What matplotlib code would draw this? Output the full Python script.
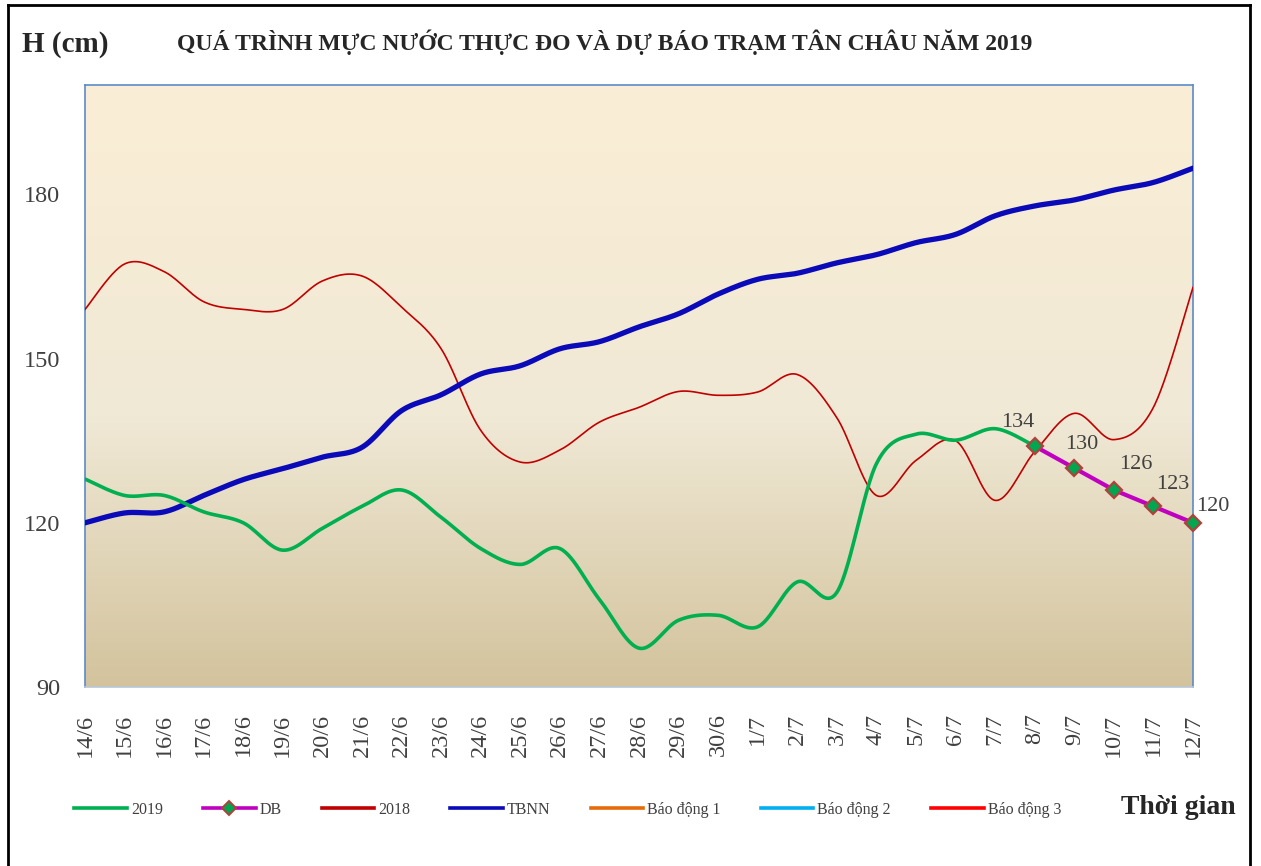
import numpy as np
import matplotlib
matplotlib.use("Agg")
import matplotlib.pyplot as plt
from matplotlib.lines import Line2D
from matplotlib.colors import LinearSegmentedColormap

# ---------------- data ----------------
dates = ["14/6", "15/6", "16/6", "17/6", "18/6", "19/6", "20/6", "21/6", "22/6", "23/6",
         "24/6", "25/6", "26/6", "27/6", "28/6", "29/6", "30/6", "1/7", "2/7", "3/7",
         "4/7", "5/7", "6/7", "7/7", "8/7", "9/7", "10/7", "11/7", "12/7"]

h2019 = [128, 125, 125, 122, 120, 115, 119, 123, 126, 121,
         115.3, 112.4, 115.3, 106, 97.1, 102.2, 103.1, 101, 109.2, 107.3,
         130.8, 136.2, 135.1, 137.2, 134]

db_idx = [24, 25, 26, 27, 28]
db_vals = [134, 130, 126, 123, 120]

h2018 = [159.0, 167.3, 165.9, 160.4, 159.0, 159.0, 164.2, 165.1, 159.4, 151.8,
         136.9, 131.1, 133.3, 138.4, 141.1, 144.0, 143.3, 143.9, 147.1, 139.2,
         125.0, 131.4, 135.0, 124.1, 133.0, 140.0, 135.2, 141.1, 163.0]

tbnn = [120.0, 121.8, 122.0, 125.0, 127.9, 129.9, 132.0, 133.8, 140.5, 143.4,
        147.2, 148.7, 151.8, 153.1, 155.8, 158.2, 161.8, 164.5, 165.6, 167.5,
        169.0, 171.2, 172.7, 176.1, 177.9, 179.0, 180.8, 182.2, 184.8]

yticks = [90, 120, 150, 180]

# ---------------- helpers ----------------
def smooth(xs, ys, n=30):
    """Excel-like smoothed line (Catmull-Rom / Bezier) through data points."""
    xs = np.asarray(xs, float)
    ys = np.asarray(ys, float)
    P = np.column_stack([xs, ys])
    m = len(P)
    out = [P[0]]
    for i in range(m - 1):
        p0 = P[i - 1] if i > 0 else P[i]
        p1 = P[i]
        p2 = P[i + 1]
        p3 = P[i + 2] if i + 2 < m else P[i + 1]
        c1 = p1 + (p2 - p0) / 6.0
        c2 = p2 - (p3 - p1) / 6.0
        t = np.linspace(0, 1, n)[1:, None]
        seg = ((1 - t) ** 3) * p1 + 3 * ((1 - t) ** 2) * t * c1 + 3 * (1 - t) * t ** 2 * c2 + t ** 3 * p2
        out.extend(seg)
    out = np.array(out)
    return out[:, 0], out[:, 1]

serif = ["Liberation Serif", "DejaVu Serif"]
plt.rcParams["font.family"] = serif

W, H = 1261, 866
fig = plt.figure(figsize=(W / 100, H / 100), dpi=100)
fig.patch.set_facecolor("white")

ax = fig.add_axes([85 / W, 1 - 687 / H, (1193 - 85) / W, (687 - 85) / H])

# gradient background
cmap = LinearSegmentedColormap.from_list(
    "bg", [(0.0, "#FBEED5"), (0.55, "#F0E9D6"), (1.0, "#D3C39D")])
grad = np.linspace(0, 1, 256)[:, None]
ax.imshow(grad, cmap=cmap, aspect="auto", extent=[0, 1, 0, 1],
          transform=ax.transAxes, zorder=0)

x_all = np.arange(len(dates))

# 2018
sx, sy = smooth(x_all, h2018)
ax.plot(sx, sy, color="#C00000", lw=1.2, zorder=3)
# TBNN
sx, sy = smooth(x_all, tbnn)
ax.plot(sx, sy, color="#0A0AB8", lw=3.8, zorder=4, solid_capstyle="round")
# 2019
sx, sy = smooth(np.arange(len(h2019)), h2019)
ax.plot(sx, sy, color="#00B050", lw=2.6, zorder=5, solid_capstyle="round")
# DB
ax.plot(db_idx, db_vals, color="#C000C0", lw=3.0, zorder=6,
        marker="D", markersize=8, markerfacecolor="#00A650",
        markeredgecolor="#B0423C", markeredgewidth=1.6, clip_on=False)

label_offsets = [(-17, 24), (7, 24), (22, 25), (19, 22), (20, 16)]
for xi, v, (dx, dy) in zip(db_idx, db_vals, label_offsets):
    ax.annotate(str(v), (xi, v), xytext=(dx * 0.72, dy * 0.72), textcoords="offset points",
                ha="center", va="center", fontsize=16, color="#404040", zorder=7,
                annotation_clip=False)

ax.set_xlim(0, len(dates) - 1)
ax.set_ylim(90, 200)
ax.set_yticks(yticks)
ax.set_xticks(x_all)
ax.set_xticklabels(dates, rotation=90)
ax.tick_params(axis="both", length=0, labelsize=17.5, labelcolor="#404040")
ax.tick_params(axis="x", pad=19)
ax.tick_params(axis="y", pad=18)
for s in ax.spines.values():
    s.set_color("#5B8BC9")
    s.set_linewidth(1.2)
ax.spines["bottom"].set_color("#B9C7DA")

# titles
fig.text(22 / W, 1 - 44 / H, "H (cm)", fontsize=21, fontweight="bold",
         color="#262626", ha="left", va="center")
fig.text(605 / W, 1 - 42 / H,
         "QUÁ TRÌNH MỰC NƯỚC THỰC ĐO VÀ DỰ BÁO TRẠM TÂN CHÂU NĂM 2019",
         fontsize=17, fontweight="bold", color="#262626", ha="center", va="center")
fig.text(1236 / W, 1 - 808 / H, "Thời gian", fontsize=20, fontweight="bold",
         color="#262626", ha="right", va="center")

# legend
handles = [
    Line2D([], [], color="#00B050", lw=2.6),
    Line2D([], [], color="#C000C0", lw=2.6, marker="D", markersize=7,
           markerfacecolor="#00A650", markeredgecolor="#B0423C", markeredgewidth=1.4),
    Line2D([], [], color="#C00000", lw=2.6),
    Line2D([], [], color="#0A0AB8", lw=2.6),
    Line2D([], [], color="#E46C0A", lw=2.6),
    Line2D([], [], color="#00B0F0", lw=2.6),
    Line2D([], [], color="#FF0000", lw=2.6),
]
labels = ["2019", "DB", "2018", "TBNN", "Báo động 1", "Báo động 2", "Báo động 3"]
leg = fig.legend(handles, labels, loc="center left", bbox_to_anchor=(60 / W, 1 - 810 / H),
                 ncol=7, frameon=False, fontsize=11.5, handlelength=3.3,
                 handletextpad=0.25, columnspacing=2.5, labelcolor="#404040")

# outer frame
fig.add_artist(Line2D([8 / W, 8 / W], [0, 1 - 5 / H], color="black", lw=2, transform=fig.transFigure))
fig.add_artist(Line2D([1250 / W, 1250 / W], [0, 1 - 5 / H], color="black", lw=2, transform=fig.transFigure))
fig.add_artist(Line2D([8 / W, 1250 / W], [1 - 5 / H, 1 - 5 / H], color="black", lw=2, transform=fig.transFigure))

fig.savefig("out.png", dpi=100, facecolor="white")
